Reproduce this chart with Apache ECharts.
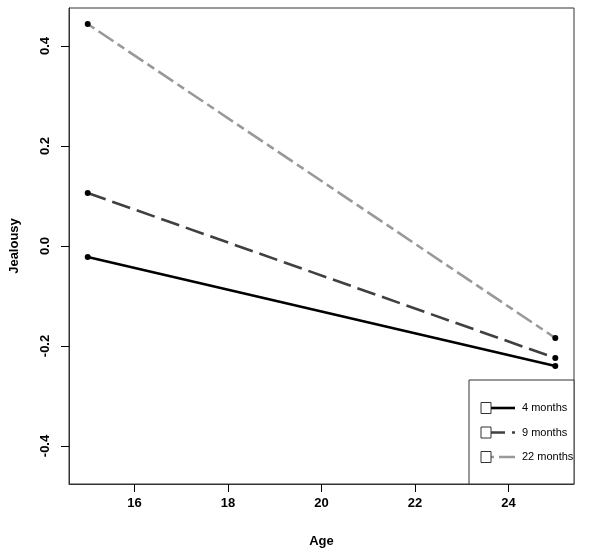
<!DOCTYPE html>
<html>
<head>
<meta charset="utf-8">
<script src="https://cdn.jsdelivr.net/npm/echarts@6/dist/echarts.min.js"></script>
<style>html,body{margin:0;padding:0;background:#fff}#c{width:601px;height:557px}</style>
</head>
<body>
<div id="c"></div>
<script>
// Data
var ages = [15, 25];
var seriesNames = ['4 months', '9 months', '22 months'];
var values4 = [-0.022, -0.240];
var values9 = [0.106, -0.224];
var values22 = [0.444, -0.184];
var xTicks = [16, 18, 20, 22, 24];
var yTicks = [-0.4, -0.2, 0.0, 0.2, 0.4];

var allValues = [values4, values9, values22];
var lineColors = ['#000000', '#404040', '#999999'];
var lineDashes = ['solid', [19, 7], [8, 5, 18, 5]];
var lineWidths = [2.6, 2.6, 2.6];

var chart = echarts.init(document.getElementById('c'), null, {renderer: 'canvas'});
var FONT = 'Liberation Sans, Arial, sans-serif';

var series = seriesNames.map(function (name, i) {
  return {
    name: name,
    type: 'line',
    data: ages.map(function (a, j) { return [a, allValues[i][j]]; }),
    symbol: 'circle',
    symbolSize: 6,
    itemStyle: {color: '#000'},
    lineStyle: {color: lineColors[i], width: lineWidths[i], type: lineDashes[i]},
    z: 3 - i + 2,
    animation: false
  };
});

// legend built with graphic elements
var lgX = 469, lgY = 380, lgW = 105, lgH = 104;
var legendChildren = [{
  type: 'rect', shape: {x: lgX, y: lgY, width: lgW, height: lgH},
  style: {fill: '#fff', stroke: '#333', lineWidth: 1}
}];
seriesNames.forEach(function (name, i) {
  var cy = 408 + i * 24.5;
  legendChildren.push({
    type: 'line', shape: {x1: 486, y1: cy, x2: 515, y2: cy},
    style: {stroke: lineColors[i], lineWidth: lineWidths[i], lineDash: lineDashes[i] === 'solid' ? null : lineDashes[i]}
  });
  legendChildren.push({
    type: 'rect', shape: {x: 481, y: cy - 5.5, width: 10, height: 11},
    style: {fill: '#fff', stroke: '#333', lineWidth: 1}
  });
  legendChildren.push({
    type: 'text', x: 522, y: cy,
    style: {text: name, font: '11px ' + FONT, fill: '#000', verticalAlign: 'middle', align: 'left'}
  });
});

chart.setOption({
  animation: false,
  backgroundColor: '#fff',
  grid: {left: 68, right: 27, top: 8, bottom: 73, show: true, borderColor: '#333', borderWidth: 1},
  xAxis: {
    type: 'value', min: 14.6, max: 25.4,
    name: 'Age', nameLocation: 'middle', nameGap: 51,
    nameTextStyle: {fontFamily: FONT, fontWeight: 'bold', fontSize: 13, color: '#000'},
    axisLine: {show: true, onZero: false, lineStyle: {color: '#333', width: 1}},
    splitLine: {show: false},
    axisTick: {show: true, length: 8, lineStyle: {color: '#000', width: 1}, customValues: xTicks},
    axisLabel: {customValues: xTicks, fontFamily: FONT, fontWeight: 'bold', fontSize: 13, color: '#000', margin: 13,
      formatter: function (v) { return String(v); }}
  },
  yAxis: {
    type: 'value', min: -0.476, max: 0.476,
    name: 'Jealousy', nameLocation: 'middle', nameGap: 48,
    nameTextStyle: {fontFamily: FONT, fontWeight: 'bold', fontSize: 13, color: '#000'},
    axisLine: {show: true, onZero: false, lineStyle: {color: '#333', width: 1}},
    splitLine: {show: false},
    axisTick: {show: true, length: 8, lineStyle: {color: '#000', width: 1}, customValues: yTicks},
    axisLabel: {customValues: yTicks, rotate: 90, fontFamily: FONT, fontWeight: 'bold', fontSize: 13, color: '#000', margin: 17,
      formatter: function (v) { return v.toFixed(1); }}
  },
  graphic: [{type: 'group', z: 100, children: legendChildren}],
  series: series
});
</script>
</body>
</html>
